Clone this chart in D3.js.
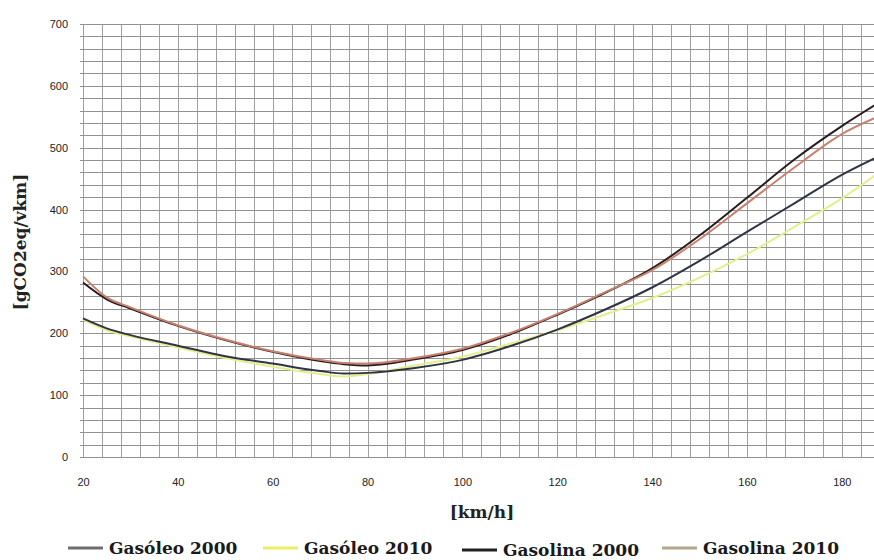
<!DOCTYPE html>
<html>
<head>
<meta charset="utf-8">
<script src="https://cdn.jsdelivr.net/npm/d3@7"></script>
<style>
  body { margin: 0; background: #fff; }
  svg { display: block; }
</style>
</head>
<body>
<div id="chart"></div>
<script>
// speeds in km/h
const speeds = [20, 25, 30, 40, 50, 60, 70, 75, 80, 90, 100, 110, 120, 130, 140, 150, 160, 170, 180, 187];

// gCO2eq/vkm
const gasoleo2000  = [224, 208, 197, 180, 163, 151, 139, 135, 136, 144, 157, 179, 206, 238, 274, 317, 364, 410, 456, 483];
const gasoleo2010  = [222, 205, 195, 177, 160, 146, 134, 130, 134, 148, 162, 183, 205, 230, 257, 290, 328, 372, 418, 455];
const gasolina2000 = [282, 255, 240, 212, 189, 170, 155, 150, 148, 158, 173, 198, 230, 265, 305, 358, 419, 481, 535, 569];
const gasolina2010 = [292, 258, 242, 213, 190, 171, 157, 152, 151, 160, 175, 200, 231, 266, 302, 352, 410, 468, 522, 548];

const seriesNames = ["Gasóleo 2000", "Gasóleo 2010", "Gasolina 2000", "Gasolina 2010"];
const yTicks = [0, 100, 200, 300, 400, 500, 600, 700];
const xTicks = [20, 40, 60, 80, 100, 120, 140, 160, 180];

const width = 874, height = 560;
const margin = { top: 24, right: -1, bottom: 103, left: 83 };

const svg = d3.select("#chart").append("svg")
  .attr("width", width)
  .attr("height", height);

const x = d3.scaleLinear().domain([20, 187]).range([margin.left, width - margin.right]);
const y = d3.scaleLinear().domain([0, 700]).range([height - margin.bottom, margin.top]);

// grid
const grid = svg.append("g");
grid.selectAll("line.v")
  .data(d3.range(20, 188, 4))
  .enter().append("line")
  .attr("x1", d => Math.round(x(d)) + 0.5).attr("x2", d => Math.round(x(d)) + 0.5)
  .attr("y1", y(700)).attr("y2", y(0))
  .attr("stroke", "#a0a0a0")
  .attr("stroke-width", 1);
grid.selectAll("line.h")
  .data(d3.range(0, 701, 20))
  .enter().append("line")
  .attr("x1", x(20) - 3).attr("x2", width)
  .attr("y1", d => Math.round(y(d)) + 0.5).attr("y2", d => Math.round(y(d)) + 0.5)
  .attr("stroke", "#929292")
  .attr("stroke-width", 1);

// axes
const yAxis = svg.append("g")
  .attr("transform", `translate(${x(20) - 12},0)`)
  .call(d3.axisLeft(y).tickValues(yTicks).tickSize(0).tickFormat(d3.format("d")));
yAxis.select(".domain").remove();

const xAxis = svg.append("g")
  .attr("transform", `translate(0,${y(0) + 18})`)
  .call(d3.axisBottom(x).tickValues(xTicks).tickSize(0));
xAxis.select(".domain").remove();

svg.selectAll(".tick text")
  .style("font-family", "'Liberation Sans', Arial, sans-serif")
  .style("font-size", "11px")
  .attr("fill", "#222");

// titles
svg.append("text")
  .attr("x", 482).attr("y", 518)
  .attr("text-anchor", "middle")
  .style("font-family", "'DejaVu Serif', serif")
  .style("font-weight", "bold")
  .style("font-size", "17px")
  .attr("fill", "#222")
  .text("[km/h]");

svg.append("text")
  .attr("transform", "translate(26,242) rotate(-90)")
  .attr("text-anchor", "middle")
  .style("font-family", "'DejaVu Serif', serif")
  .style("font-weight", "bold")
  .style("font-size", "17px")
  .attr("fill", "#222")
  .text("[gCO2eq/vkm]");

// lines
const series = [
  { name: seriesNames[1], values: gasoleo2010, color: "#e4ee8a", key: "#eeee66" },
  { name: seriesNames[0], values: gasoleo2000, color: "#2e3442", key: "#6e6e6e" },
  { name: seriesNames[2], values: gasolina2000, color: "#2a1c1c", key: "#222222" },
  { name: seriesNames[3], values: gasolina2010, color: "#c8806e", key: "#b4a68c" }
];

const line = d3.line()
  .x((d, i) => x(speeds[i]))
  .y(d => y(d))
  .curve(d3.curveMonotoneX);

svg.append("g").selectAll("path")
  .data(series)
  .enter().append("path")
  .attr("d", d => line(d.values))
  .attr("fill", "none")
  .attr("stroke", d => d.color)
  .attr("stroke-width", 2);

// legend
const legendX = [68, 263, 462, 662];
const legendDy = [0, 0, 2, 0];
const legendOrder = [series[1], series[0], series[2], series[3]];
const legend = svg.append("g");
legendOrder.forEach((s, i) => {
  const g = legend.append("g").attr("transform", `translate(${legendX[i]},${548 + legendDy[i]})`);
  g.append("line")
    .attr("x1", 0).attr("x2", 35)
    .attr("y1", 0).attr("y2", 0)
    .attr("stroke", s.key)
    .attr("stroke-width", 3);
  g.append("text")
    .attr("x", 41).attr("y", 6)
    .style("font-family", "'DejaVu Serif', serif")
    .style("font-weight", "bold")
    .style("font-size", "17px")
    .attr("fill", "#1a1a1a")
    .text(s.name);
});
</script>
</body>
</html>
